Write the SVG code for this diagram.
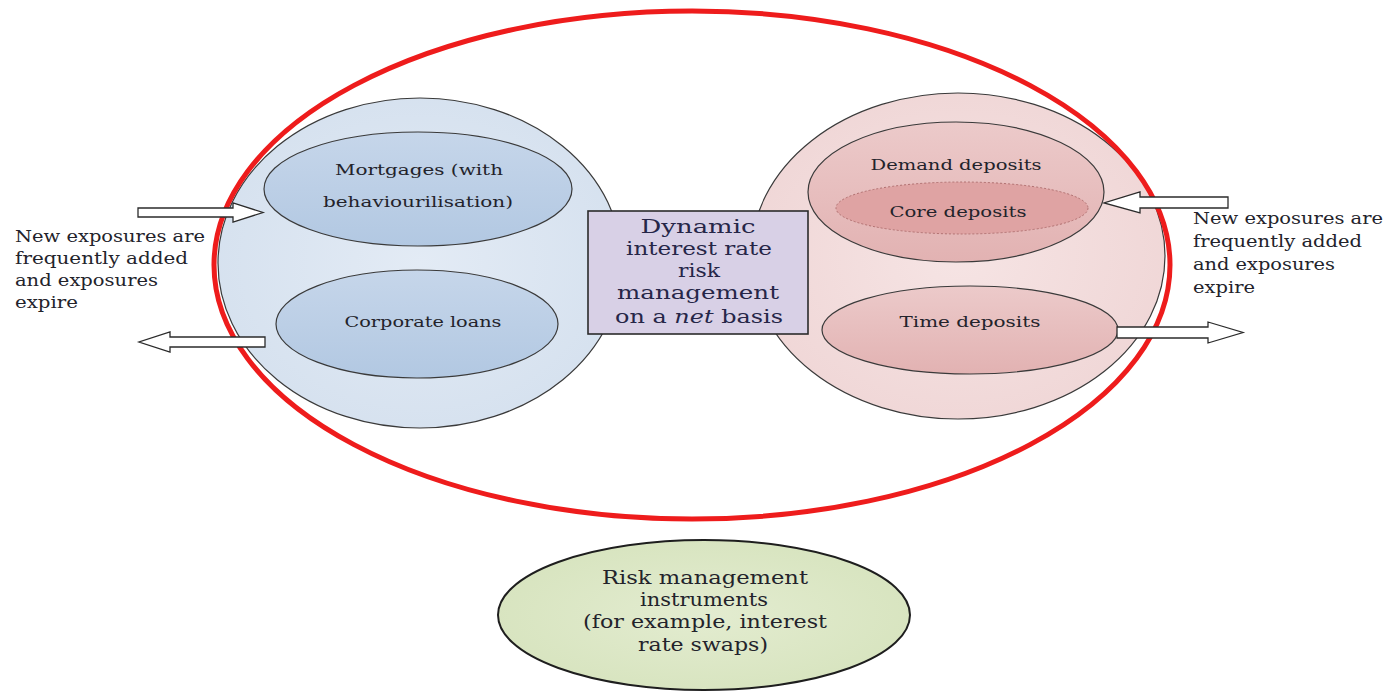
<svg xmlns="http://www.w3.org/2000/svg" width="1388" height="695" viewBox="0 0 1388 695">
  <style>
    text { font-family: "DejaVu Serif", "Liberation Serif", serif; fill: #23232b; }
    .lbl { font-size: 15px; text-anchor: middle; }
    .side { font-size: 17px; }
    .core { font-size: 19px; text-anchor: middle; fill: #262648; }
    .inst { font-size: 18px; text-anchor: middle; }
    .ring { stroke: #3a3a3a; stroke-width: 1.2; }
    .arrow { fill: #ffffff; stroke: #2b2b2b; stroke-width: 1.3; stroke-linejoin: miter; }
  </style>
  <defs>
    <radialGradient id="blueBig" cx="50%" cy="50%" r="60%">
      <stop offset="0" stop-color="#e3ebf5"/>
      <stop offset="1" stop-color="#d4e0ee"/>
    </radialGradient>
    <linearGradient id="blueSmall" x1="0" y1="0" x2="0" y2="1">
      <stop offset="0" stop-color="#c6d6ea"/>
      <stop offset="1" stop-color="#b2c8e2"/>
    </linearGradient>
    <radialGradient id="pinkBig" cx="50%" cy="50%" r="60%">
      <stop offset="0" stop-color="#f6e4e4"/>
      <stop offset="1" stop-color="#efd5d5"/>
    </radialGradient>
    <linearGradient id="pinkSmall" x1="0" y1="0" x2="0" y2="1">
      <stop offset="0" stop-color="#eccaca"/>
      <stop offset="1" stop-color="#e2b2b2"/>
    </linearGradient>
    <radialGradient id="green" cx="50%" cy="50%" r="60%">
      <stop offset="0" stop-color="#e3ecd0"/>
      <stop offset="1" stop-color="#d6e3bd"/>
    </radialGradient>
  </defs>

  <rect width="1388" height="695" fill="#ffffff"/>

  <!-- assets side -->
  <g id="assets">
    <ellipse cx="420" cy="263" rx="202" ry="165" fill="url(#blueBig)" class="ring"/>
  </g>
  <g id="mortgages">
    <ellipse cx="418" cy="189" rx="154" ry="57" fill="url(#blueSmall)" class="ring"/>
    <text class="lbl" x="419" y="175" textLength="168" lengthAdjust="spacingAndGlyphs">Mortgages (with</text>
    <text class="lbl" x="418" y="207" textLength="190" lengthAdjust="spacingAndGlyphs">behaviourilisation)</text>
  </g>
  <g id="corporate-loans">
    <ellipse cx="417" cy="324" rx="141" ry="54" fill="url(#blueSmall)" class="ring"/>
    <text class="lbl" x="423" y="327" textLength="157" lengthAdjust="spacingAndGlyphs">Corporate loans</text>
  </g>

  <!-- liabilities side -->
  <g id="liabilities">
    <ellipse cx="958" cy="256" rx="207" ry="163" fill="url(#pinkBig)" class="ring"/>
  </g>
  <g id="demand-deposits">
    <ellipse cx="956" cy="192" rx="148" ry="70" fill="url(#pinkSmall)" class="ring"/>
    <text class="lbl" x="956" y="170" textLength="171" lengthAdjust="spacingAndGlyphs">Demand deposits</text>
  </g>
  <g id="core-deposits">
    <ellipse cx="962" cy="208" rx="126" ry="26" fill="#dfa3a3" stroke="#b07070" stroke-width="1" stroke-dasharray="2 2"/>
    <text class="lbl" x="958" y="217" textLength="137" lengthAdjust="spacingAndGlyphs">Core deposits</text>
  </g>
  <g id="time-deposits">
    <ellipse cx="970" cy="330" rx="148" ry="44" fill="url(#pinkSmall)" class="ring"/>
    <text class="lbl" x="970" y="327" textLength="141" lengthAdjust="spacingAndGlyphs">Time deposits</text>
  </g>

  <!-- netting box -->
  <g id="net-management">
    <rect x="588" y="211" width="220" height="123" fill="#d8d0e6" stroke="#2b2b2b" stroke-width="1.6"/>
    <text class="core" x="698" y="233" textLength="115" lengthAdjust="spacingAndGlyphs">Dynamic</text>
    <text class="core" x="699" y="255" textLength="146" lengthAdjust="spacingAndGlyphs">interest rate</text>
    <text class="core" x="699" y="277" textLength="42" lengthAdjust="spacingAndGlyphs">risk</text>
    <text class="core" x="698" y="299" textLength="162" lengthAdjust="spacingAndGlyphs">management</text>
    <text class="core" x="699" y="323" textLength="168" lengthAdjust="spacingAndGlyphs">on a <tspan font-style="italic">net</tspan> basis</text>
  </g>

  <!-- scope of the dynamic portfolio -->
  <g id="portfolio-boundary">
    <ellipse cx="692" cy="265" rx="478" ry="254" fill="none" stroke="#ee1c1c" stroke-width="5"/>
  </g>

  <!-- flows in and out of the portfolio -->
  <g id="connectors">
    <path class="arrow" d="M138,208 L233,208 L233,203 L263,212.5 L233,222 L233,217 L138,217 Z"/>
    <path class="arrow" d="M265,337 L170,337 L170,332 L139,342 L170,352 L170,347 L265,347 Z"/>
    <path class="arrow" d="M1228,197 L1140,197 L1140,192 L1104,203 L1140,213 L1140,208 L1228,208 Z"/>
    <path class="arrow" d="M1117,327 L1208,327 L1208,322 L1243,332.5 L1208,343 L1208,338 L1117,338 Z"/>
  </g>

  <g id="note-left">
    <text class="side" x="15" y="242" textLength="190" lengthAdjust="spacingAndGlyphs">New exposures are</text>
    <text class="side" x="15" y="264" textLength="173" lengthAdjust="spacingAndGlyphs">frequently added</text>
    <text class="side" x="15" y="286" textLength="143" lengthAdjust="spacingAndGlyphs">and exposures</text>
    <text class="side" x="15" y="308" textLength="63" lengthAdjust="spacingAndGlyphs">expire</text>
  </g>
  <g id="note-right">
    <text class="side" x="1193" y="224" textLength="190" lengthAdjust="spacingAndGlyphs">New exposures are</text>
    <text class="side" x="1193" y="247" textLength="169" lengthAdjust="spacingAndGlyphs">frequently added</text>
    <text class="side" x="1193" y="270" textLength="142" lengthAdjust="spacingAndGlyphs">and exposures</text>
    <text class="side" x="1193" y="293" textLength="62" lengthAdjust="spacingAndGlyphs">expire</text>
  </g>

  <!-- hedging instruments -->
  <g id="instruments">
    <ellipse cx="704" cy="615" rx="206" ry="75" fill="url(#green)" stroke="#1e1e1e" stroke-width="2"/>
    <text class="inst" x="705" y="584" textLength="206" lengthAdjust="spacingAndGlyphs">Risk management</text>
    <text class="inst" x="704" y="606" textLength="128" lengthAdjust="spacingAndGlyphs">instruments</text>
    <text class="inst" x="705" y="628" textLength="244" lengthAdjust="spacingAndGlyphs">(for example, interest</text>
    <text class="inst" x="703" y="651" textLength="130" lengthAdjust="spacingAndGlyphs">rate swaps)</text>
  </g>
</svg>
